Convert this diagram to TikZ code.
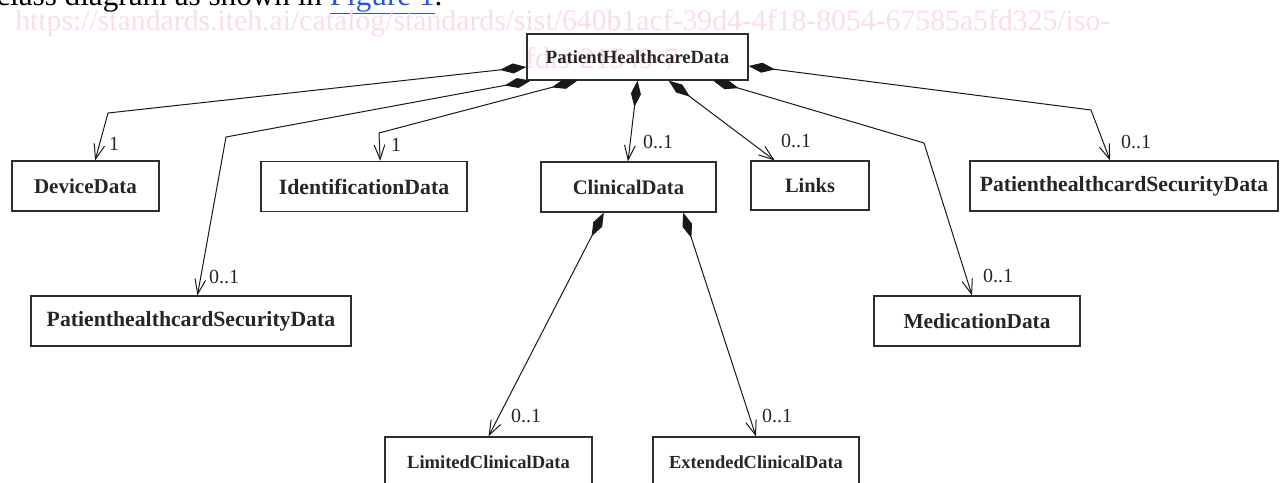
\documentclass[tikz,border=0pt]{standalone}
\usepackage{fontspec}
\setmainfont{Liberation Serif}
\usetikzlibrary{arrows.meta,calc}
\definecolor{wm}{RGB}{251,221,230}
\definecolor{lnk}{RGB}{35,85,235}
\definecolor{boxc}{RGB}{45,45,45}
\tikzset{
  cls/.style={draw=boxc, line width=0.9pt, inner sep=0pt,
    font=\fontsize{#1}{18}\selectfont\bfseries, text=black!85},
  cls/.default=15,
  sz/.style 2 args={minimum width=#1*0.75pt, minimum height=#2*0.75pt},
  assoc/.style={draw=black!90, line width=0.75pt,
    {Diamond[length=20pt,width=7.5pt]}-{Straight Barb[length=11pt,width=8pt]}},
  mult/.style={font=\fontsize{15}{17}\selectfont, inner sep=0pt, text=black!85},
  wmtext/.style={anchor=base west, inner sep=0pt, text=wm, font=\fontsize{22.3}{26}\selectfont},
}
\begin{document}
\begin{tikzpicture}[x=0.75pt,y=-0.75pt]
\useasboundingbox (0,0) rectangle (1281,482);
\clip (0,0) rectangle (1281,482);
% header text (cut by the page top)
\node[anchor=base west, inner sep=0pt, font=\fontsize{23.4}{26}\selectfont] (hdr) at (-4,5)
  {class diagram as shown in \textcolor{lnk}{\underline{Figure 1}}.};
% watermark
\node[wmtext] (wm1) at (15,30) {https://standards.iteh.ai/catalog/standards/sist/640b1acf-39d4-4f18-8054-67585a5fd325/iso-};
\node[wmtext] (wm2) at (525,68) {fdis-21549-7};
% classes
\node[cls=14, sz={221}{46}] (phd) at (637.5,57) {PatientHealthcareData};
\node[cls=15.8, sz={147}{50}] (dev) at (85.5,186) {DeviceData};
\node[cls=16.3, sz={206}{50}] (ident) at (364,186.5) {IdentificationData};
\node[cls=15.5, sz={175}{50}] (clin) at (628.5,187) {ClinicalData};
\node[cls=15.3, sz={118}{49}] (links) at (810,185.5) {Links};
\node[cls=16.3, sz={308}{50}] (rphsd) at (1124,186) {PatienthealthcardSecurityData};
\node[cls=16.3, sz={320}{50}] (lphsd) at (191,321) {PatienthealthcardSecurityData};
\node[cls=16, sz={206}{50}] (med) at (977,321) {MedicationData};
\node[cls=13.9, sz={207}{50}] (lcd) at (488.5,462) {LimitedClinicalData};
\node[cls=13.8, sz={206}{50}] (ecd) at (756,462) {ExtendedClinicalData};
% bend points
\coordinate (b1) at (108,113);
\coordinate (b2) at (226,137);
\coordinate (b3) at (379,133);
\coordinate (b6) at (924,143);
\coordinate (b7) at (1091,110);
% associations
\draw[assoc] ($(phd.west)+(0,10)$) -- (b1) -- ($(dev.north west)!0.565!(dev.north east)$);
\draw[assoc] ($(phd.south west)!0.02!(phd.south east)$) -- (b2) -- ($(lphsd.north west)!0.52!(lphsd.north east)$);
\draw[assoc] ($(phd.south west)!0.23!(phd.south east)$) -- (b3) -- ($(ident.north west)!0.578!(ident.north east)$);
\draw[assoc] ($(phd.south west)!0.5!(phd.south east)$) -- ($(clin.north west)!0.497!(clin.north east)$);
\draw[assoc] ($(phd.south west)!0.64!(phd.south east)$) -- ($(links.north west)!0.203!(links.north east)$);
\draw[assoc] ($(phd.south west)!0.84!(phd.south east)$) -- (b6) -- ($(med.north west)!0.476!(med.north east)$);
\draw[assoc] ($(phd.east)+(0,9)$) -- (b7) -- ($(rphsd.north west)!0.455!(rphsd.north east)$);
\draw[assoc] ($(clin.south west)!0.36!(clin.south east)$) -- ($(lcd.north west)!0.5!(lcd.north east)$);
\draw[assoc] ($(clin.south west)!0.81!(clin.south east)$) -- ($(ecd.north west)!0.5!(ecd.north east)$);
% multiplicities
\node[mult] (m1) at (114,144) {1};
\node[mult] (m2) at (224,277) {0..1};
\node[mult] (m3) at (396,145) {1};
\node[mult] (m4) at (658,142) {0..1};
\node[mult] (m5) at (796,141) {0..1};
\node[mult] (m6) at (998,276) {0..1};
\node[mult] (m7) at (1136,142) {0..1};
\node[mult] (m8) at (526,416) {0..1};
\node[mult] (m9) at (777,416) {0..1};
\end{tikzpicture}
\end{document}
